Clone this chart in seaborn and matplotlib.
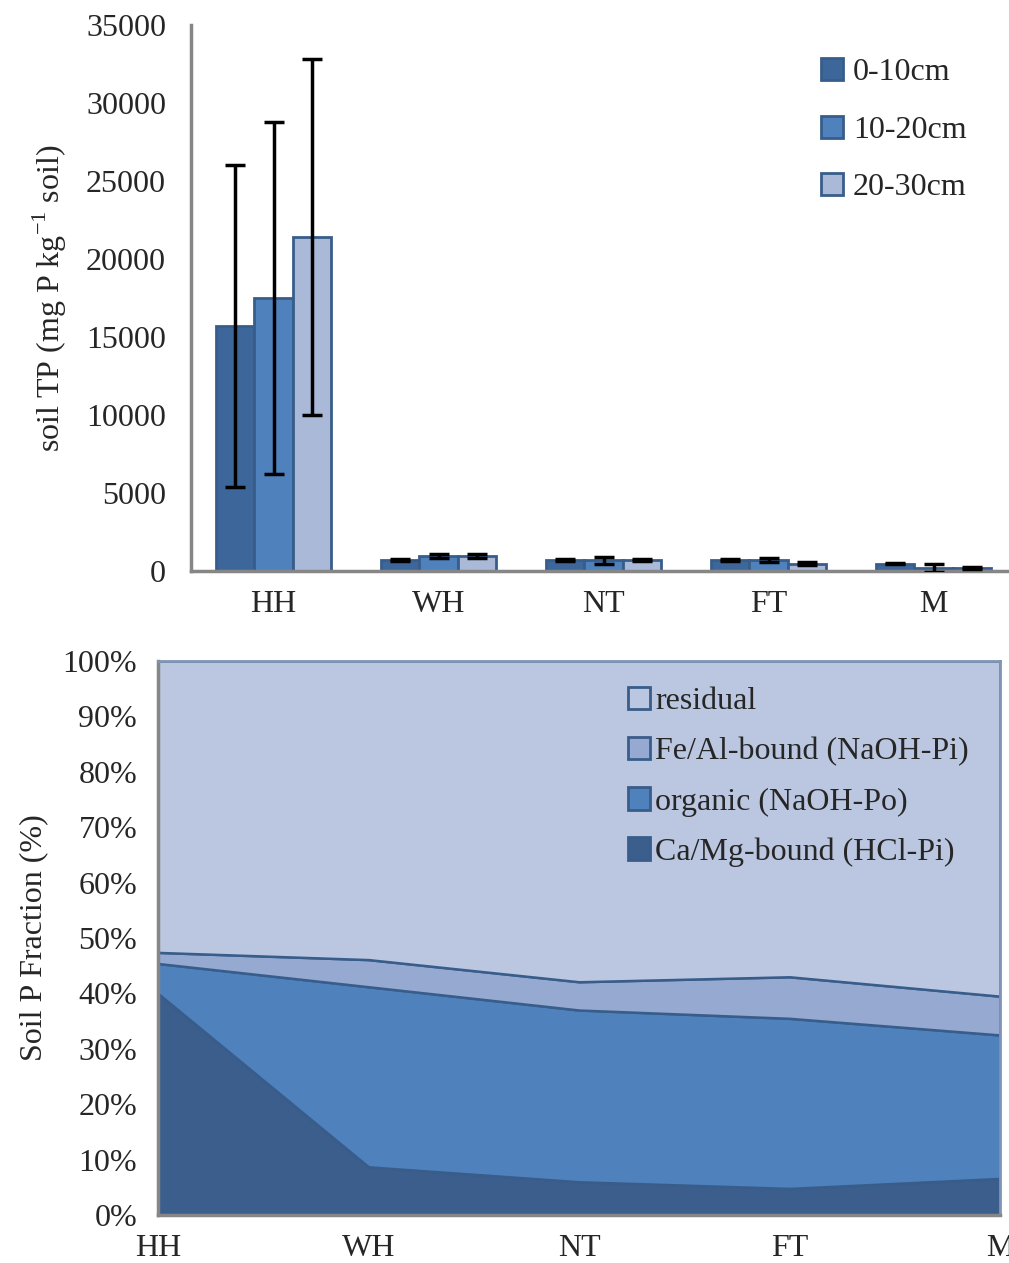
import numpy as np
import pandas as pd
import matplotlib
matplotlib.use("Agg")
import matplotlib.pyplot as plt
import seaborn as sns
from matplotlib.patches import Patch

# data
sites = ["HH", "WH", "NT", "FT", "M"]
depths = ["0-10cm", "10-20cm", "20-30cm"]
tp_0_10 = [15700, 700, 690, 690, 480]
tp_10_20 = [17500, 960, 690, 690, 200]
tp_20_30 = [21400, 960, 690, 480, 200]
err_0_10 = [10300, 60, 60, 60, 60]
err_10_20 = [11300, 110, 220, 130, 280]
err_20_30 = [11400, 110, 60, 80, 60]

fractions = ["Ca/Mg-bound (HCl-Pi)", "organic (NaOH-Po)", "Fe/Al-bound (NaOH-Pi)", "residual"]
camg = [40.0, 8.7, 6.0, 4.8, 6.6]
organic = [5.4, 32.5, 31.0, 30.7, 25.9]
feal = [2.0, 4.9, 5.1, 7.5, 7.0]
residual = [100 - a - b - c for a, b, c in zip(camg, organic, feal)]

sns.set_style("white")
plt.rcParams["font.family"] = ["Liberation Serif", "DejaVu Serif"]
plt.rcParams["mathtext.fontset"] = "custom"
plt.rcParams["mathtext.rm"] = "Liberation Serif"

FS = 23
GRAY = "#868686"
EDGE = "#385D8A"
bar_colors = ["#3D679B", "#4F81BD", "#AAB9D7"]
area_colors = ["#3B5E8D", "#4F81BD", "#95A9D1", "#BBC7E0"]

fig = plt.figure(figsize=(10.09, 12.63), dpi=100)

# ---- top: total P bars ----
ax1 = fig.add_axes([191 / 1009, 1 - 571 / 1263, 825 / 1009, 546 / 1263])
df = pd.DataFrame({
    "site": sites * 3,
    "depth": sum([[d] * 5 for d in depths], []),
    "tp": tp_0_10 + tp_10_20 + tp_20_30,
})
sns.barplot(data=df, x="site", y="tp", hue="depth", palette=bar_colors,
            saturation=1, errorbar=None, width=0.7, edgecolor=EDGE, linewidth=2,
            legend=False, ax=ax1)
errs = [err_0_10, err_10_20, err_20_30]
vals = [tp_0_10, tp_10_20, tp_20_30]
for cont, e, v in zip(ax1.containers, errs, vals):
    xs = [p.get_x() + p.get_width() / 2 for p in cont.patches]
    ax1.errorbar(xs, v, yerr=e, fmt="none", ecolor="black", elinewidth=2.5,
                 capsize=7, capthick=2.5, zorder=5)

ax1.set_xlim(-0.5, 4.5)
ax1.set_ylim(0, 35000)
ax1.set_yticks(range(0, 35001, 5000))
ax1.set_xlabel("")
ax1.set_ylabel("soil TP (mg P kg$^{-1}$ soil)", fontsize=FS, labelpad=12)
ax1.set_xticks(np.arange(-0.5, 4.6, 1), minor=True)
ax1.tick_params(axis="x", which="major", length=0, pad=14, labelsize=FS)
ax1.tick_params(axis="x", which="minor", length=9, width=2, color=GRAY, direction="out")
ax1.tick_params(axis="y", length=9, width=2, color=GRAY, direction="out", pad=9, labelsize=FS)
for s in ["top", "right"]:
    ax1.spines[s].set_visible(False)
for s in ["left", "bottom"]:
    ax1.spines[s].set_color(GRAY)
    ax1.spines[s].set_linewidth(2.5)
h1 = [Patch(facecolor=c, edgecolor=EDGE, linewidth=2) for c in bar_colors]
ax1.legend(h1, depths, loc="upper right", bbox_to_anchor=(0.975, 0.992), frameon=False,
           fontsize=FS, handlelength=0.7, handleheight=0.7, handletextpad=0.3,
           labelspacing=0.88)

# ---- bottom: P fractions stacked area ----
ax2 = fig.add_axes([158 / 1009, 1 - 1215 / 1263, 842 / 1009, 554 / 1263])
x = np.arange(len(sites))
ax2.stackplot(x, camg, organic, feal, residual, colors=area_colors,
              edgecolor=EDGE, linewidth=1.8)
ax2.set_xlim(0, 4)
ax2.set_ylim(0, 100)
ax2.set_yticks(range(0, 101, 10))
ax2.set_yticklabels([f"{v}%" for v in range(0, 101, 10)])
ax2.set_xticks(x)
ax2.set_xticklabels(sites)
ax2.set_ylabel("Soil P Fraction (%)", fontsize=FS, labelpad=10)
ax2.tick_params(axis="x", length=9, width=2, color=GRAY, direction="out", pad=5, labelsize=FS)
ax2.tick_params(axis="y", length=9, width=2, color=GRAY, direction="out", pad=6, labelsize=FS)
for s in ["left", "bottom"]:
    ax2.spines[s].set_color(GRAY)
    ax2.spines[s].set_linewidth(2.5)
for s in ["top", "right"]:
    ax2.spines[s].set_color("#7F95B5")
    ax2.spines[s].set_linewidth(2)
h2 = [Patch(facecolor=c, edgecolor=EDGE, linewidth=2) for c in area_colors][::-1]
ax2.legend(h2, fractions[::-1], loc="upper right", bbox_to_anchor=(0.997, 1.005), frameon=False,
           fontsize=FS, handlelength=0.7, handleheight=0.7, handletextpad=0.15,
           labelspacing=0.65)

fig.savefig("out.png", dpi=100)
